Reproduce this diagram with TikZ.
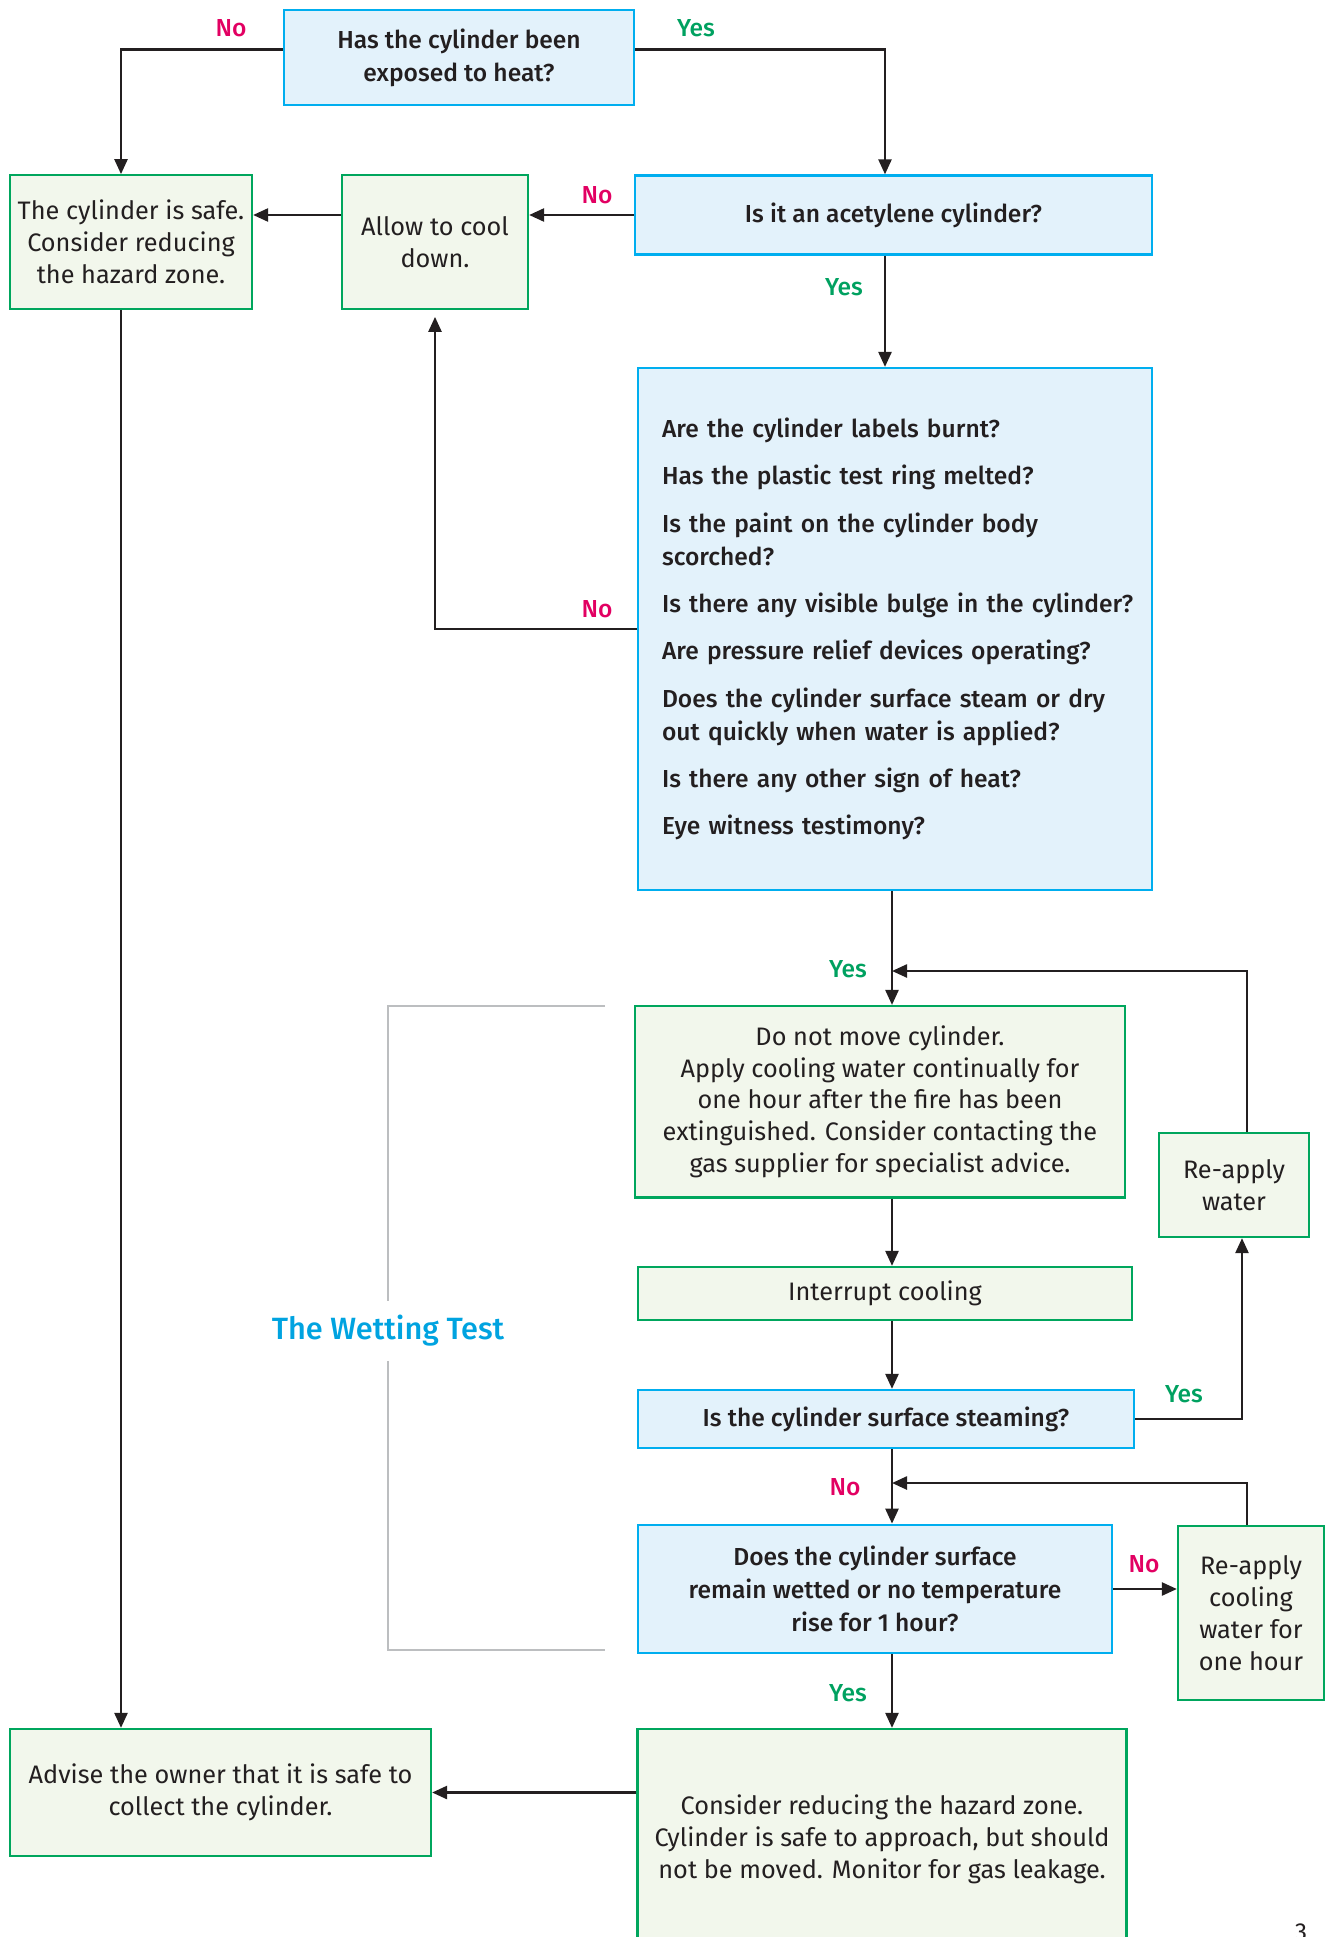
\documentclass[tikz,border=0pt]{standalone}
\usepackage{fontspec}
\setmainfont{Fira Sans}
\newfontfamily\medfont{Fira Sans Medium}
\usepackage{tikz}
\usetikzlibrary{
    arrows.meta,
    positioning,
    calc
}
\usepackage{xcolor}
\definecolor{qblue}{RGB}{0,174,239}
\definecolor{qbluefill}{RGB}{227,242,251}
\definecolor{agreen}{RGB}{0,166,93}
\definecolor{agreenfill}{RGB}{242,247,236}
\definecolor{nored}{RGB}{226,0,98}
\definecolor{yesgreen}{RGB}{0,161,96}
\definecolor{inkblack}{RGB}{35,31,32}
\definecolor{bracketgrey}{RGB}{188,190,192}
\definecolor{titleblue}{RGB}{0,163,224}

\begin{document}
\begin{tikzpicture}[
    x=0.02cm, y=-0.02cm,
    question/.style={
        rectangle, draw=qblue, fill=qbluefill, line width=1.3pt,
        align=center, text=inkblack,
        font=\medfont\fontsize{14}{18.7}\selectfont
    },
    action/.style={
        rectangle, draw=agreen, fill=agreenfill, line width=1.3pt,
        align=center, text=inkblack,
        font=\fontsize{14.4}{18.2}\selectfont
    },
    flow/.style={-{Triangle[length=0.3cm, width=0.26cm]}, line width=1.4pt, draw=inkblack},
    yeslabel/.style={font=\medfont\fontsize{14}{16}\selectfont, text=yesgreen},
    nolabel/.style={font=\medfont\fontsize{14}{16}\selectfont, text=nored},
    wetbracket/.style={draw=bracketgrey, line width=1.6pt}
]
\useasboundingbox (0,0) rectangle (1331,1937);
\clip (0,0) rectangle (1331,1937);

% Spines the connectors run along
\coordinate (leftspine) at (121,0);
\coordinate (topspine) at (885,0);
\coordinate (spine) at (892,0);
\coordinate (loopa) at (892,971);
\coordinate (loopb) at (892,1483);

% Upper part: heat and acetylene checks
\node[question, minimum width=7cm, minimum height=1.9cm] (heat) at (459,57.5) {Has the cylinder been\\exposed to heat?};
\node[action, minimum width=4.84cm, minimum height=2.67cm] (safe) at (131,242) {The cylinder is safe.\\Consider reducing\\the hazard zone.};
\node[action, minimum width=3.72cm, minimum height=2.67cm] (cool) at (435,242) {Allow to cool\\down.};
\node[question, minimum width=10.34cm, minimum height=1.58cm] (acet) at (893.5,215) {Is it an acetylene cylinder?};

\node[question, align=left, text width=9.32cm, minimum width=10.28cm, minimum height=10.44cm] (quest) at (895,629) {%
    Are the cylinder labels burnt?\\[0.29cm]
    Has the plastic test ring melted?\\[0.29cm]
    Is the paint on the cylinder body\\scorched?\\[0.29cm]
    \mbox{Is there any visible bulge in the cylinder?}\\[0.29cm]
    Are pressure relief devices operating?\\[0.29cm]
    Does the cylinder surface steam or dry\\out quickly when water is applied?\\[0.29cm]
    Is there any other sign of heat?\\[0.29cm]
    Eye witness testimony?};

% Wetting test
\node[action, minimum width=9.8cm, minimum height=3.83cm] (cooling) at (880,1101.8) {Do not move cylinder.\\Apply cooling water continually for\\one hour after the fire has been\\extinguished. Consider contacting the\\gas supplier for specialist advice.};
\node[action, minimum width=3cm, minimum height=2.08cm] (reapply) at (1234,1185) {Re-apply\\water};
\node[action, minimum width=9.88cm, minimum height=1.06cm] (interrupt) at (885,1293.5) {Interrupt cooling};
\node[question, minimum width=9.92cm, minimum height=1.16cm] (steam) at (886,1419) {Is the cylinder surface steaming?};
\node[question, minimum width=9.48cm, minimum height=2.57cm] (wetted) at (875,1589) {Does the cylinder surface\\remain wetted or no temperature\\rise for 1 hour?};
\node[action, minimum width=2.92cm, minimum height=3.49cm] (recool) at (1251,1613) {Re-apply\\cooling\\water for\\one hour};

% Outcomes
\node[action, minimum width=9.78cm, minimum height=4.4cm] (consider) at (882,1839) {Consider reducing the hazard zone.\\Cylinder is safe to approach, but should\\not be moved. Monitor for gas leakage.};
\node[action, minimum width=8.42cm, minimum height=2.54cm] (advise) at (220.5,1792.5) {Advise the owner that it is safe to\\collect the cylinder.};

% Wetting test bracket
\node[font=\medfont\fontsize{17.5}{21}\selectfont, text=titleblue, inner ysep=0.28cm] (wettitle) at (388,1331) {The Wetting Test};
\draw[wetbracket] (605,1006) -| (wettitle.north);
\draw[wetbracket] (wettitle.south) |- (605,1650);

% Arrows
\draw[flow] ($(heat.west)+(0,-8)$) -| (safe.north -| leftspine);
\draw[flow] ($(heat.east)+(0,-8)$) -| (acet.north -| topspine);
\draw[flow] (acet.west) -- (acet.west -| cool.east);
\draw[flow] (cool.west |- acet.west) -- (safe.east |- acet.west);
\draw[flow] (acet.south -| topspine) -- (quest.north -| topspine);
\draw[flow, shorten >=0.14cm] (quest.west) -| (cool.south);
\draw[flow] (quest.south -| spine) -- (cooling.north -| spine);
\draw[flow] ($(reapply.north)+(13,0)$) |- (loopa);
\draw[flow] (cooling.south -| spine) -- (interrupt.north -| spine);
\draw[flow] (interrupt.south -| spine) -- (steam.north -| spine);
\draw[flow] (steam.east) -| ($(reapply.south)+(8,0)$);
\draw[flow] (steam.south -| spine) -- (wetted.north -| spine);
\draw[flow] ($(recool.north)+(-4,0)$) |- (loopb);
\draw[flow] (wetted.east) -- (wetted.east -| recool.west);
\draw[flow] (wetted.south -| spine) -- (consider.north -| spine);
\draw[flow] (consider.west |- advise.east) -- (advise.east);
\draw[flow] (safe.south -| leftspine) -- (advise.north -| leftspine);

% Yes / No labels
\node[nolabel] (noheat) at (231,28) {No};
\node[yeslabel] (yesheat) at (696,28) {Yes};
\node[nolabel] (noacet) at (597,195) {No};
\node[yeslabel] (yesacet) at (844,287) {Yes};
\node[nolabel] (noquest) at (597,609) {No};
\node[yeslabel] (yesquest) at (848,969) {Yes};
\node[yeslabel] (yessteam) at (1184,1394) {Yes};
\node[nolabel] (nosteam) at (845,1487) {No};
\node[nolabel] (nowet) at (1144,1564) {No};
\node[yeslabel] (yeswet) at (848,1693) {Yes};

% Page number
\node[anchor=north, inner sep=0pt, text=inkblack, font=\fontsize{14}{16}\selectfont] (pagenum) at (1301,1923) {3};

\end{tikzpicture}
\end{document}
